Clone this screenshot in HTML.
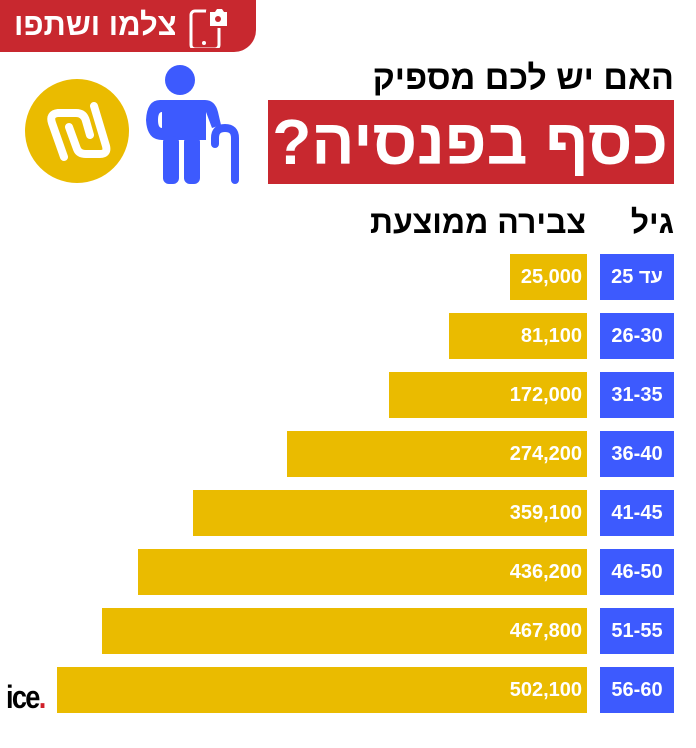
<!DOCTYPE html>
<html><head><meta charset="utf-8"><style>
body{margin:0;width:696px;height:748px;background:#fff;position:relative;overflow:hidden;font-family:"Liberation Sans","Noto Sans CJK SC",sans-serif;}
.a{position:absolute;}
.blue{background:#3D5AFE;color:#fff;font-weight:bold;font-size:20px;text-align:center;line-height:46px;width:74px;left:600px;height:46px;}
.bar{background:#EABB00;color:#fff;font-weight:bold;font-size:20px;text-align:right;line-height:46px;height:46px;box-sizing:border-box;padding-right:5px;}
</style></head><body>
<div class="a" style="left:0;top:0;width:256px;height:52px;background:#C8282F;border-bottom-right-radius:22px;"></div>
<div class="a" style="left:14px;top:6px;color:#fff;font-size:31px;font-weight:bold;line-height:38px;" dir="rtl">צלמו ושתפו</div>
<svg class="a" style="left:188px;top:6px" width="42" height="42" viewBox="0 0 42 42">
<rect x="3" y="5" width="28" height="38" rx="4" fill="none" stroke="#fff" stroke-width="3"/>
<rect x="18" y="0" width="24" height="22" rx="5" fill="#C8282F"/>
<path d="M22 6h5l2-3h5l2 3h3v14h-17z" fill="#fff"/><circle cx="30" cy="13" r="3" fill="#C8282F"/>
<circle cx="16" cy="37" r="2" fill="#fff"/></svg>
<svg class="a" style="left:0;top:60px" width="260" height="130" viewBox="0 60 260 130">
<circle cx="77" cy="131" r="52" fill="#EABB00"/>
<path d="M64 157 L52 123 Q49 114 58 113 L76 113 Q84 113 86 121 L90 135" fill="none" stroke="#fff" stroke-width="8" stroke-linecap="round" stroke-linejoin="round"/>
<path d="M69 127 L77 149 Q79 154 86 154 L100 154 Q108 154 106 146 L94 106" fill="none" stroke="#fff" stroke-width="8" stroke-linecap="round" stroke-linejoin="round"/>
<circle cx="180" cy="80" r="15" fill="#3D5AFE"/>
<path d="M160 100 H205 Q215 100 218 112 L221 125 L212 128 L206 112 V140 H162 V112 Q158 112 158 120 Q158 128 162 128 V140 Q147 140 146 120 Q147 100 160 100Z" fill="#3D5AFE"/>
<rect x="163" y="136" width="16" height="48" rx="6" fill="#3D5AFE"/>
<rect x="184" y="136" width="16" height="48" rx="6" fill="#3D5AFE"/>
<path d="M215 144 V138 Q215 128 225 128 Q235 128 235 138 V180" fill="none" stroke="#3D5AFE" stroke-width="8" stroke-linecap="round"/>
</svg>
<div class="a" style="right:22px;top:58px;font-size:34px;font-weight:bold;line-height:40px;" dir="rtl">האם יש לכם מספיק</div>
<div class="a" style="left:268px;top:100px;width:406px;height:84px;background:#C8282F;"></div>
<div class="a" style="left:268px;top:100px;width:400px;height:84px;color:#fff;font-size:64px;font-weight:bold;line-height:84px;text-align:right;white-space:nowrap;" dir="rtl">כסף בפנסיה?</div>
<div class="a" style="right:22px;top:202px;font-size:32px;font-weight:bold;line-height:40px;" dir="rtl">גיל</div>
<div class="a" style="right:110px;top:202px;font-size:32px;font-weight:bold;line-height:40px;" dir="rtl">צבירה ממוצעת</div>

<div class="a blue" style="top:254px" dir="rtl">עד 25</div><div class="a bar" style="top:254px;left:510px;width:77px">25,000</div>
<div class="a blue" style="top:313px">26-30</div><div class="a bar" style="top:313px;left:449px;width:138px">81,100</div>
<div class="a blue" style="top:372px">31-35</div><div class="a bar" style="top:372px;left:389px;width:198px">172,000</div>
<div class="a blue" style="top:431px">36-40</div><div class="a bar" style="top:431px;left:287px;width:300px">274,200</div>
<div class="a blue" style="top:490px">41-45</div><div class="a bar" style="top:490px;left:193px;width:394px">359,100</div>
<div class="a blue" style="top:549px">46-50</div><div class="a bar" style="top:549px;left:138px;width:449px">436,200</div>
<div class="a blue" style="top:608px">51-55</div><div class="a bar" style="top:608px;left:102px;width:485px">467,800</div>
<div class="a blue" style="top:667px">56-60</div><div class="a bar" style="top:667px;left:57px;width:530px">502,100</div>

<div class="a" style="left:6px;top:679px;font-size:32px;font-weight:bold;letter-spacing:-2px;line-height:36px;transform:scaleX(0.85);transform-origin:left;">ice<span style="color:#D0202A">.</span></div>
</body></html>
